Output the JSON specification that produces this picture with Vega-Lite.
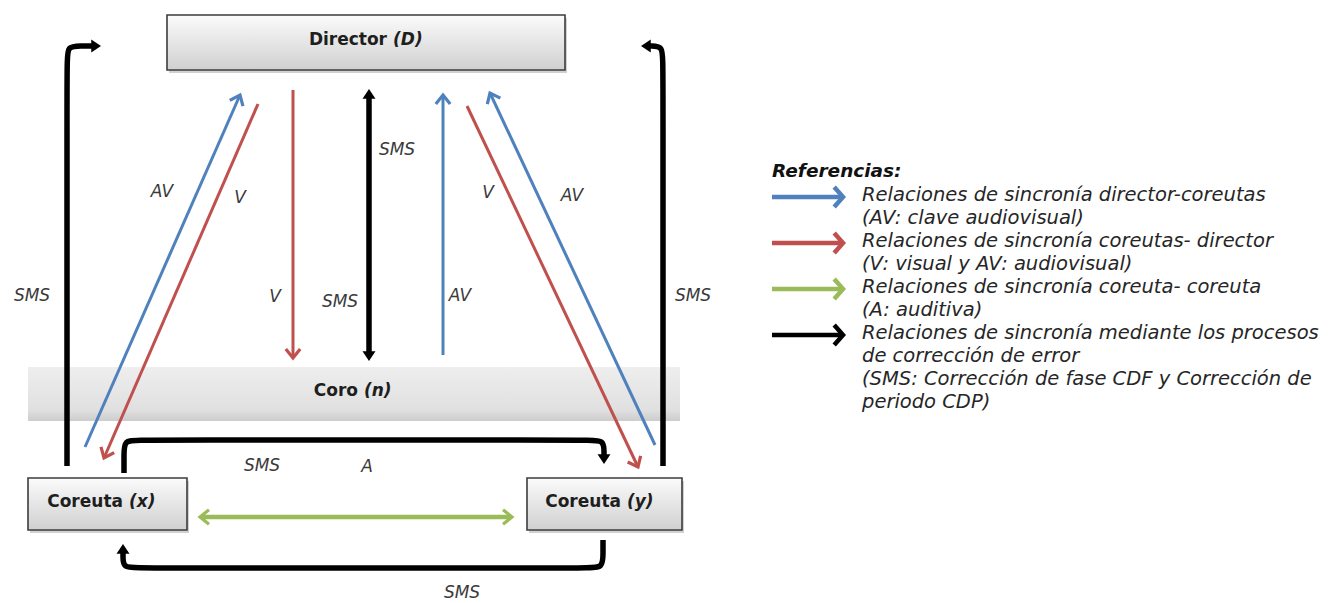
{
  "$schema": "https://vega.github.io/schema/vega-lite/v6.json",
  "width": 1342,
  "height": 603,
  "autosize": {"type": "none"},
  "padding": 0,
  "background": "#ffffff",
  "config": {"view": {"stroke": null}},
  "datasets": {
    "boxes": [
      {"id": "D", "kind": "box", "x": 167, "x2": 565, "y": 15, "y2": 70},
      {"id": "n", "kind": "band", "x": 28, "x2": 680, "y": 367, "y2": 421},
      {"id": "cx", "kind": "box", "x": 28, "x2": 187, "y": 478, "y2": 530},
      {"id": "cy", "kind": "box", "x": 527, "x2": 682, "y": 478, "y2": 530}
    ],
    "segs": [
      {"rel": "dc", "part": "d", "x": 85, "y": 447, "x2": 240, "y2": 95},
      {"rel": "dc", "part": "d", "x": 443, "y": 355, "x2": 443, "y2": 95},
      {"rel": "dc", "part": "d", "x": 655, "y": 445, "x2": 490, "y2": 93},
      {"rel": "cd", "part": "d", "x": 258, "y": 104, "x2": 104, "y2": 458},
      {"rel": "cd", "part": "d", "x": 293, "y": 90, "x2": 293, "y2": 358},
      {"rel": "cd", "part": "d", "x": 467, "y": 106, "x2": 638, "y2": 467},
      {"rel": "sms", "part": "d", "x": 369, "y": 97, "x2": 369, "y2": 353},
      {"rel": "cc", "part": "d", "x": 201, "y": 517, "x2": 511, "y2": 517},
      {"rel": "dc", "part": "l", "x": 772, "y": 197, "x2": 840, "y2": 197},
      {"rel": "cd", "part": "l", "x": 772, "y": 243, "x2": 840, "y2": 243},
      {"rel": "cc", "part": "l", "x": 772, "y": 289, "x2": 840, "y2": 289},
      {"rel": "sms", "part": "l", "x": 772, "y": 335, "x2": 840, "y2": 335}
    ],
    "paths": [
      {"path": "L", "i": 0, "x": 67, "y": 466},
      {"path": "L", "i": 1, "x": 67, "y": 62},
      {"path": "L", "i": 2, "x": 67, "y": 46},
      {"path": "L", "i": 3, "x": 81, "y": 46},
      {"path": "L", "i": 4, "x": 94, "y": 46},
      {"path": "R", "i": 0, "x": 663, "y": 466},
      {"path": "R", "i": 1, "x": 663, "y": 62},
      {"path": "R", "i": 2, "x": 663, "y": 46},
      {"path": "R", "i": 3, "x": 650, "y": 46},
      {"path": "R", "i": 4, "x": 648, "y": 46},
      {"path": "T", "i": 0, "x": 124, "y": 473},
      {"path": "T", "i": 1, "x": 124, "y": 455},
      {"path": "T", "i": 2, "x": 124, "y": 440},
      {"path": "T", "i": 3, "x": 139, "y": 440},
      {"path": "T", "i": 4, "x": 589, "y": 440},
      {"path": "T", "i": 5, "x": 604, "y": 440},
      {"path": "T", "i": 6, "x": 604, "y": 453},
      {"path": "T", "i": 7, "x": 604, "y": 456},
      {"path": "B", "i": 0, "x": 603, "y": 540},
      {"path": "B", "i": 1, "x": 603, "y": 553},
      {"path": "B", "i": 2, "x": 603, "y": 568},
      {"path": "B", "i": 3, "x": 588, "y": 568},
      {"path": "B", "i": 4, "x": 138, "y": 568},
      {"path": "B", "i": 5, "x": 123, "y": 568},
      {"path": "B", "i": 6, "x": 123, "y": 555},
      {"path": "B", "i": 7, "x": 123, "y": 552}
    ],
    "heads": [
      {"kind": "open", "rel": "dc", "x": 240, "y": 95, "ang": 23.8},
      {"kind": "open", "rel": "dc", "x": 443, "y": 95, "ang": 0},
      {"kind": "open", "rel": "dc", "x": 490, "y": 93, "ang": 334.9},
      {"kind": "open", "rel": "cd", "x": 104, "y": 458, "ang": 203.5},
      {"kind": "open", "rel": "cd", "x": 293, "y": 358, "ang": 180},
      {"kind": "open", "rel": "cd", "x": 638, "y": 467, "ang": 154.6},
      {"kind": "open", "rel": "cc", "x": 200, "y": 517, "ang": 270},
      {"kind": "open", "rel": "cc", "x": 512, "y": 517, "ang": 90},
      {"kind": "solid", "rel": "sms", "x": 369, "y": 89, "ang": 0},
      {"kind": "solid", "rel": "sms", "x": 369, "y": 361, "ang": 180},
      {"kind": "solid", "rel": "sms", "x": 101, "y": 46, "ang": 90},
      {"kind": "solid", "rel": "sms", "x": 641, "y": 46, "ang": 270},
      {"kind": "solid", "rel": "sms", "x": 604, "y": 464, "ang": 180},
      {"kind": "solid", "rel": "sms", "x": 123, "y": 544, "ang": 0},
      {"kind": "legend", "rel": "dc", "x": 843, "y": 197, "ang": 90},
      {"kind": "legend", "rel": "cd", "x": 843, "y": 243, "ang": 90},
      {"kind": "legend", "rel": "cc", "x": 843, "y": 289, "ang": 90},
      {"kind": "legend", "rel": "sms", "x": 843, "y": 335, "ang": 90}
    ],
    "names": [
      {"role": "name", "t": "Director", "x": 387, "y": 45},
      {"role": "var", "t": "(D)", "x": 393, "y": 45},
      {"role": "name", "t": "Coro", "x": 358, "y": 396},
      {"role": "var", "t": "(n)", "x": 364, "y": 396},
      {"role": "name", "t": "Coreuta", "x": 123, "y": 507},
      {"role": "var", "t": "(x)", "x": 129, "y": 507},
      {"role": "name", "t": "Coreuta", "x": 621, "y": 507},
      {"role": "var", "t": "(y)", "x": 627, "y": 507}
    ],
    "labels": [
      {"t": "AV", "x": 162, "y": 192},
      {"t": "V", "x": 240, "y": 198},
      {"t": "SMS", "x": 397, "y": 150},
      {"t": "V", "x": 275, "y": 297},
      {"t": "SMS", "x": 340, "y": 302},
      {"t": "AV", "x": 460, "y": 296},
      {"t": "V", "x": 488, "y": 193},
      {"t": "AV", "x": 572, "y": 196},
      {"t": "SMS", "x": 32, "y": 296},
      {"t": "SMS", "x": 693, "y": 296},
      {"t": "SMS", "x": 262, "y": 466},
      {"t": "A", "x": 367, "y": 467},
      {"t": "SMS", "x": 462, "y": 593}
    ],
    "legend": [
      {"role": "title", "t": "Referencias:", "x": 772, "y": 177},
      {"role": "line", "t": "Relaciones de sincronía director-coreutas", "x": 862, "y": 201},
      {"role": "line", "t": "(AV: clave audiovisual)", "x": 862, "y": 224},
      {"role": "line", "t": "Relaciones de sincronía coreutas- director", "x": 862, "y": 247},
      {"role": "line", "t": "(V: visual y AV: audiovisual)", "x": 862, "y": 270},
      {"role": "line", "t": "Relaciones de sincronía coreuta- coreuta", "x": 862, "y": 293},
      {"role": "line", "t": "(A: auditiva)", "x": 862, "y": 316},
      {"role": "line", "t": "Relaciones de sincronía mediante los procesos", "x": 862, "y": 339},
      {"role": "line", "t": "de corrección de error", "x": 862, "y": 362},
      {"role": "line", "t": "(SMS: Corrección de fase CDF y Corrección de", "x": 862, "y": 385},
      {"role": "line", "t": "periodo CDP)", "x": 862, "y": 408}
    ]
  },
  "encoding": {
    "x": {"field": "x", "type": "quantitative", "scale": {"domain": [0, 1342], "nice": false, "zero": false}, "axis": null},
    "y": {"field": "y", "type": "quantitative", "scale": {"domain": [0, 603], "reverse": true, "nice": false, "zero": false}, "axis": null}
  },
  "layer": [
    {
      "data": {"name": "boxes"},
      "transform": [{"filter": "datum.kind == 'box'"}],
      "mark": {"type": "rect", "fill": "#000000", "opacity": 0.18, "xOffset": 2, "yOffset": 3, "x2Offset": 2, "y2Offset": 3},
      "encoding": {"x2": {"field": "x2"}, "y2": {"field": "y2"}}
    },
    {
      "data": {"name": "boxes"},
      "transform": [{"filter": "datum.kind == 'band'"}],
      "mark": {"type": "rect", "fill": {"gradient": "linear", "x1": 0, "y1": 0, "x2": 0, "y2": 1, "stops": [{"offset": 0, "color": "#eeeeee"}, {"offset": 0.8, "color": "#e0e0e0"}, {"offset": 1, "color": "#cccccc"}]}},
      "encoding": {"x2": {"field": "x2"}, "y2": {"field": "y2"}}
    },
    {
      "data": {"name": "boxes"},
      "transform": [{"filter": "datum.kind == 'box'"}],
      "mark": {"type": "rect", "stroke": "#3c3c3c", "strokeWidth": 1.6, "fill": {"gradient": "linear", "x1": 0, "y1": 0, "x2": 0, "y2": 1, "stops": [{"offset": 0, "color": "#fbfbfb"}, {"offset": 1, "color": "#d0d0d0"}]}},
      "encoding": {"x2": {"field": "x2"}, "y2": {"field": "y2"}}
    },
    {
      "data": {"name": "segs"},
      "transform": [{"filter": "datum.part == 'd' && (datum.rel == 'dc' || datum.rel == 'cd')"}],
      "mark": {"type": "rule", "strokeWidth": 3},
      "encoding": {
        "x2": {"field": "x2"}, "y2": {"field": "y2"},
        "color": {"field": "rel", "type": "nominal", "scale": {"domain": ["dc", "cd", "cc", "sms"], "range": ["#4f81bd", "#c0504d", "#9bbb59", "#000000"]}, "legend": null}
      }
    },
    {
      "data": {"name": "segs"},
      "transform": [{"filter": "datum.part == 'd' && datum.rel == 'cc'"}],
      "mark": {"type": "rule", "strokeWidth": 4.5, "color": "#9bbb59"},
      "encoding": {"x2": {"field": "x2"}, "y2": {"field": "y2"}}
    },
    {
      "data": {"name": "segs"},
      "transform": [{"filter": "datum.part == 'd' && datum.rel == 'sms'"}],
      "mark": {"type": "rule", "strokeWidth": 5.5, "color": "#000000"},
      "encoding": {"x2": {"field": "x2"}, "y2": {"field": "y2"}}
    },
    {
      "data": {"name": "segs"},
      "transform": [{"filter": "datum.part == 'l'"}],
      "mark": {"type": "rule", "strokeWidth": 4.5},
      "encoding": {
        "x2": {"field": "x2"}, "y2": {"field": "y2"},
        "color": {"field": "rel", "type": "nominal", "scale": {"domain": ["dc", "cd", "cc", "sms"], "range": ["#4f81bd", "#c0504d", "#9bbb59", "#000000"]}, "legend": null}
      }
    },
    {
      "data": {"name": "paths"},
      "mark": {"type": "line", "interpolate": "basis", "color": "#000000", "strokeWidth": 5.5},
      "encoding": {"order": {"field": "i", "type": "quantitative"}, "detail": {"field": "path", "type": "nominal"}}
    },
    {
      "data": {"name": "heads"},
      "transform": [{"filter": "datum.kind == 'open'"}],
      "mark": {"type": "point", "shape": "M-0.8,1L0,0L0.8,1", "filled": false, "size": 324, "strokeWidth": 3.2, "opacity": 1},
      "encoding": {
        "angle": {"field": "ang", "type": "quantitative", "scale": null},
        "color": {"field": "rel", "type": "nominal", "scale": {"domain": ["dc", "cd", "cc", "sms"], "range": ["#4f81bd", "#c0504d", "#9bbb59", "#000000"]}, "legend": null}
      }
    },
    {
      "data": {"name": "heads"},
      "transform": [{"filter": "datum.kind == 'solid'"}],
      "mark": {"type": "point", "shape": "M0,0L-1,1.5L1,1.5Z", "filled": true, "size": 169, "color": "#000000", "opacity": 1},
      "encoding": {"angle": {"field": "ang", "type": "quantitative", "scale": null}}
    },
    {
      "data": {"name": "heads"},
      "transform": [{"filter": "datum.kind == 'legend'"}],
      "mark": {"type": "point", "shape": "M-0.9,0.8L0,0L0.9,0.8", "filled": false, "size": 484, "strokeWidth": 4.5, "opacity": 1},
      "encoding": {
        "angle": {"field": "ang", "type": "quantitative", "scale": null},
        "color": {"field": "rel", "type": "nominal", "scale": {"domain": ["dc", "cd", "cc", "sms"], "range": ["#4f81bd", "#c0504d", "#9bbb59", "#000000"]}, "legend": null}
      }
    },
    {
      "data": {"name": "names"},
      "transform": [{"filter": "datum.role == 'name'"}],
      "mark": {"type": "text", "align": "right", "baseline": "alphabetic", "font": "DejaVu Sans", "fontSize": 17, "fontWeight": "bold", "color": "#1e1e1e"},
      "encoding": {"text": {"field": "t"}}
    },
    {
      "data": {"name": "names"},
      "transform": [{"filter": "datum.role == 'var'"}],
      "mark": {"type": "text", "align": "left", "baseline": "alphabetic", "font": "DejaVu Sans", "fontSize": 17, "fontWeight": "bold", "fontStyle": "italic", "color": "#1e1e1e"},
      "encoding": {"text": {"field": "t"}}
    },
    {
      "data": {"name": "labels"},
      "mark": {"type": "text", "align": "center", "baseline": "middle", "font": "DejaVu Sans", "fontSize": 17, "fontStyle": "italic", "color": "#3a3a3a"},
      "encoding": {"text": {"field": "t"}}
    },
    {
      "data": {"name": "legend"},
      "transform": [{"filter": "datum.role == 'title'"}],
      "mark": {"type": "text", "align": "left", "baseline": "alphabetic", "font": "DejaVu Sans", "fontSize": 18.5, "fontWeight": "bold", "fontStyle": "italic", "color": "#111111"},
      "encoding": {"text": {"field": "t"}}
    },
    {
      "data": {"name": "legend"},
      "transform": [{"filter": "datum.role == 'line'"}],
      "mark": {"type": "text", "align": "left", "baseline": "alphabetic", "font": "DejaVu Sans", "fontSize": 19.5, "fontStyle": "italic", "color": "#262626"},
      "encoding": {"text": {"field": "t"}}
    }
  ]
}
